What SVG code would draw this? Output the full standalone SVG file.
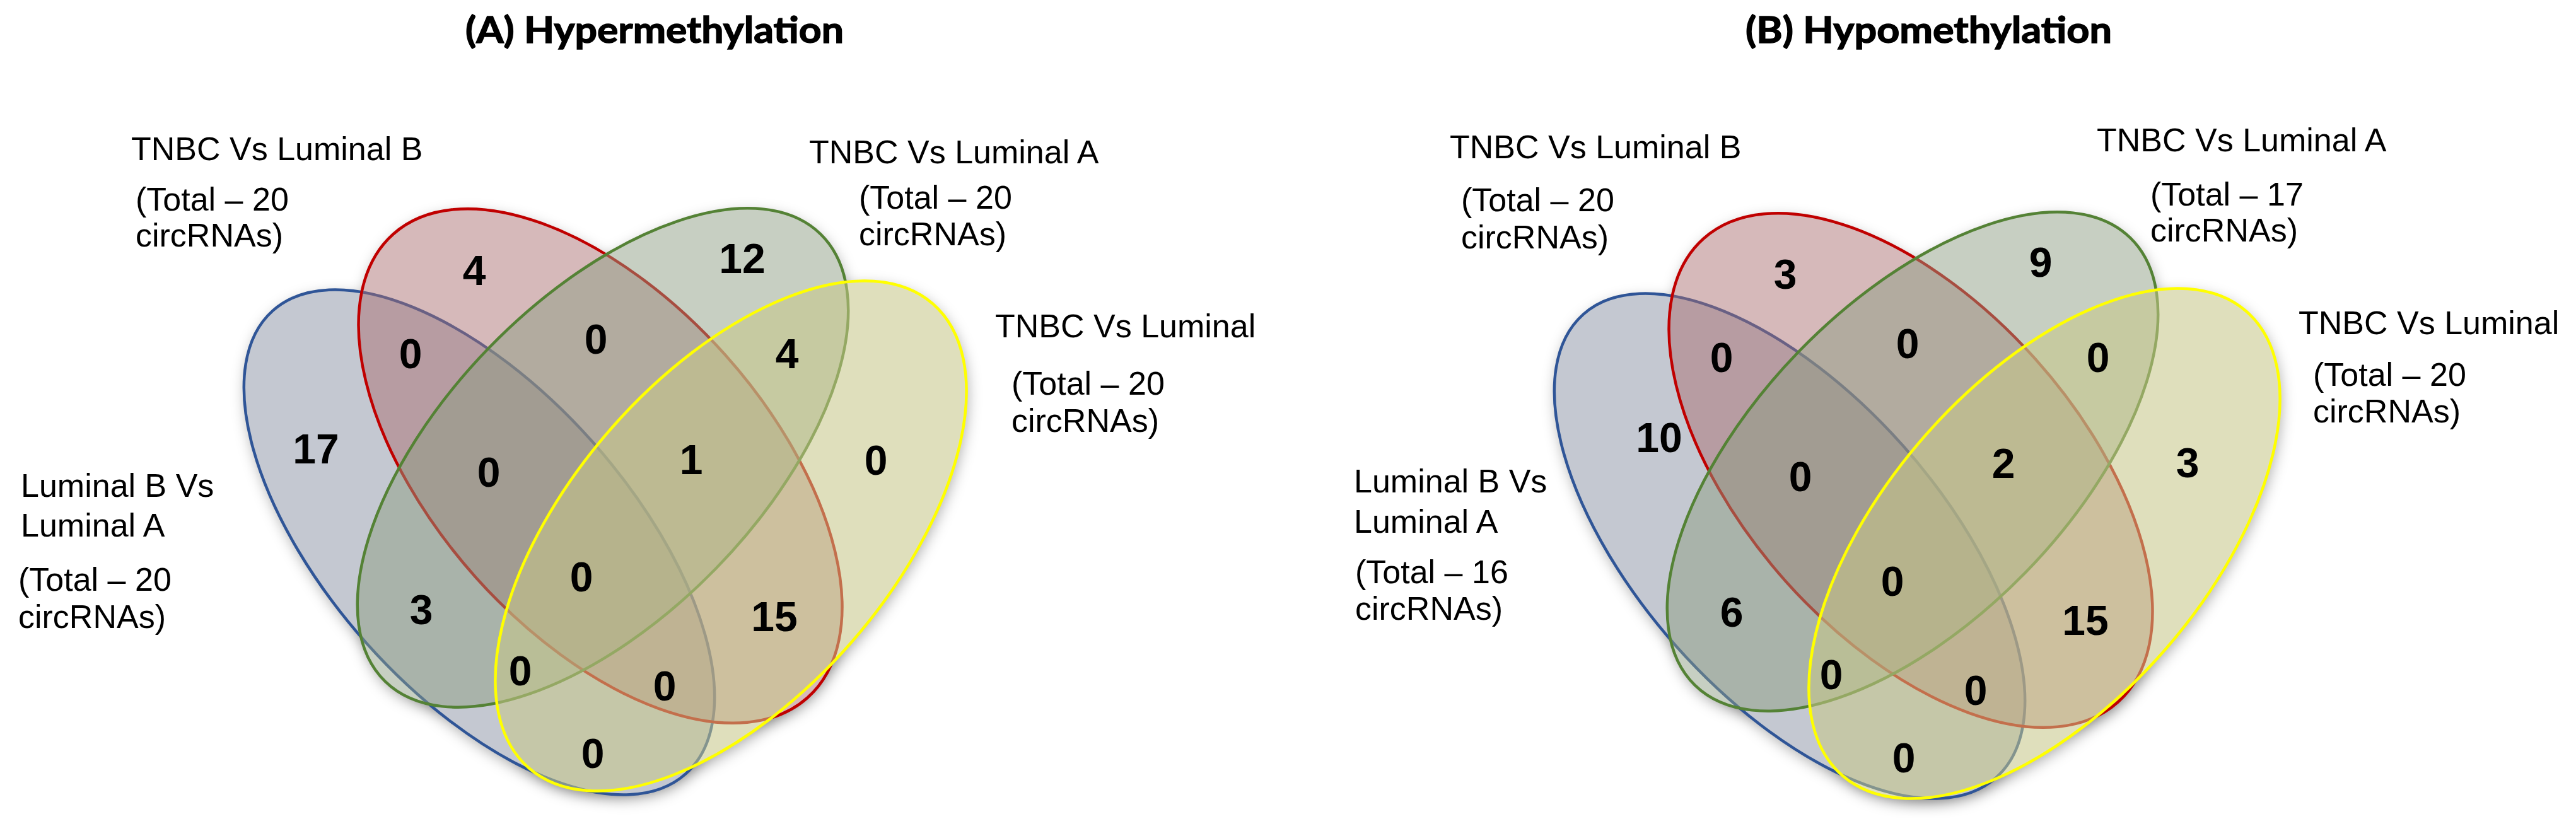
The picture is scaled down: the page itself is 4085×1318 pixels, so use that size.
<svg xmlns="http://www.w3.org/2000/svg" xmlns:xlink="http://www.w3.org/1999/xlink" width="4085" height="1318" viewBox="0 0 4085 1318">
<style>
.title{font-family:Lato,"Open Sans","Liberation Sans",sans-serif;font-weight:bold;font-size:58px;fill:#000;stroke:#000;stroke-width:1.4}
.lbl{font-family:"Liberation Sans",Arial,sans-serif;font-size:52px;fill:#000}
.num{font-family:"Liberation Sans",Arial,sans-serif;font-weight:bold;font-size:66px;fill:#000;text-anchor:middle}
.sh{fill:#000;opacity:0.32}
.wh{fill:#fff}
.blue{fill:#7c8599;fill-opacity:0.45;stroke:#2f5597;stroke-width:4.5}
.red{fill:#aa6d6f;fill-opacity:0.48;stroke:#c00000;stroke-width:4.5}
.green{fill:#8d9d83;fill-opacity:0.49;stroke:#548235;stroke-width:4.5}
.yellow{fill:#c6c687;fill-opacity:0.56;stroke:#ffff00;stroke-width:4.5}
</style>
<defs>
<filter id="blur" x="-20%" y="-20%" width="140%" height="140%"><feGaussianBlur stdDeviation="11"/></filter>
<ellipse id="eAb" cx="760" cy="860" rx="492" ry="240" transform="rotate(48.3 760 860)"/>
<ellipse id="eAr" cx="952" cy="739" rx="493" ry="265" transform="rotate(48.2 952 739)"/>
<ellipse id="eAg" cx="956" cy="726" rx="495" ry="251" transform="rotate(-45.8 956 726)"/>
<ellipse id="eAy" cx="1159" cy="850" rx="488" ry="255" transform="rotate(-49 1159 850)"/>
<ellipse id="eBb" cx="2838" cy="866" rx="492" ry="240" transform="rotate(48.3 2838 866)"/>
<ellipse id="eBr" cx="3030" cy="746" rx="493" ry="265" transform="rotate(48.2 3030 746)"/>
<ellipse id="eBg" cx="3033" cy="732" rx="495" ry="251" transform="rotate(-45.8 3033 732)"/>
<ellipse id="eBy" cx="3242" cy="862" rx="488" ry="255" transform="rotate(-49 3242 862)"/>
</defs>
<rect width="4085" height="1318" fill="#fff"/>
<text class="title" x="738" y="68" textLength="600" lengthAdjust="spacingAndGlyphs">(A) Hypermethylation</text>
<text class="title" x="2768" y="68" textLength="581" lengthAdjust="spacingAndGlyphs">(B) Hypomethylation</text>
<g id="shadows" filter="url(#blur)">
<g transform="translate(2 7)">
<use xlink:href="#eAb" class="sh"/><use xlink:href="#eAr" class="sh"/><use xlink:href="#eAg" class="sh"/><use xlink:href="#eAy" class="sh"/>
<use xlink:href="#eBb" class="sh"/><use xlink:href="#eBr" class="sh"/><use xlink:href="#eBg" class="sh"/><use xlink:href="#eBy" class="sh"/>
</g>
</g>
<g id="underlay">
<use xlink:href="#eAb" class="wh"/><use xlink:href="#eAr" class="wh"/><use xlink:href="#eAg" class="wh"/><use xlink:href="#eAy" class="wh"/>
<use xlink:href="#eBb" class="wh"/><use xlink:href="#eBr" class="wh"/><use xlink:href="#eBg" class="wh"/><use xlink:href="#eBy" class="wh"/>
</g>
<g id="A-lumB-vs-lumA">
<use xlink:href="#eAb" class="blue"/>
<text class="lbl" x="33" y="788">Luminal B Vs</text>
<text class="lbl" x="33" y="851">Luminal A</text>
<text class="lbl" x="29" y="937">(Total – 20</text>
<text class="lbl" x="29" y="996">circRNAs)</text>
</g>
<g id="A-tnbc-vs-lumB">
<use xlink:href="#eAr" class="red"/>
<text class="lbl" x="208" y="254">TNBC Vs Luminal B</text>
<text class="lbl" x="215" y="334">(Total – 20</text>
<text class="lbl" x="215" y="391">circRNAs)</text>
</g>
<g id="A-tnbc-vs-lumA">
<use xlink:href="#eAg" class="green"/>
<text class="lbl" x="1283" y="259">TNBC Vs Luminal A</text>
<text class="lbl" x="1362" y="331">(Total – 20</text>
<text class="lbl" x="1362" y="389">circRNAs)</text>
</g>
<g id="A-tnbc-vs-lum">
<use xlink:href="#eAy" class="yellow"/>
<text class="lbl" x="1578" y="535">TNBC Vs Luminal</text>
<text class="lbl" x="1604" y="626">(Total – 20</text>
<text class="lbl" x="1604" y="685">circRNAs)</text>
</g>
<g id="B-lumB-vs-lumA">
<use xlink:href="#eBb" class="blue"/>
<text class="lbl" x="2147" y="781">Luminal B Vs</text>
<text class="lbl" x="2147" y="845">Luminal A</text>
<text class="lbl" x="2149" y="925">(Total – 16</text>
<text class="lbl" x="2149" y="983">circRNAs)</text>
</g>
<g id="B-tnbc-vs-lumB">
<use xlink:href="#eBr" class="red"/>
<text class="lbl" x="2299" y="251">TNBC Vs Luminal B</text>
<text class="lbl" x="2317" y="335">(Total – 20</text>
<text class="lbl" x="2317" y="394">circRNAs)</text>
</g>
<g id="B-tnbc-vs-lumA">
<use xlink:href="#eBg" class="green"/>
<text class="lbl" x="3325" y="240">TNBC Vs Luminal A</text>
<text class="lbl" x="3410" y="326">(Total – 17</text>
<text class="lbl" x="3410" y="383">circRNAs)</text>
</g>
<g id="B-tnbc-vs-lum">
<use xlink:href="#eBy" class="yellow"/>
<text class="lbl" x="3645" y="530">TNBC Vs Luminal</text>
<text class="lbl" x="3668" y="612">(Total – 20</text>
<text class="lbl" x="3668" y="670">circRNAs)</text>
</g>
<g id="A-counts">
<text class="num" x="752" y="452">4</text>
<text class="num" x="1177" y="433">12</text>
<text class="num" x="651" y="584">0</text>
<text class="num" x="945" y="561">0</text>
<text class="num" x="1248" y="584">4</text>
<text class="num" x="501" y="735">17</text>
<text class="num" x="775" y="772">0</text>
<text class="num" x="1096" y="752">1</text>
<text class="num" x="1389" y="753">0</text>
<text class="num" x="922" y="938">0</text>
<text class="num" x="668" y="990">3</text>
<text class="num" x="1228" y="1001">15</text>
<text class="num" x="825" y="1087">0</text>
<text class="num" x="1054" y="1111">0</text>
<text class="num" x="940" y="1218">0</text>
</g>
<g id="B-counts">
<text class="num" x="2831" y="458">3</text>
<text class="num" x="3236" y="439">9</text>
<text class="num" x="2730" y="590">0</text>
<text class="num" x="3025" y="568">0</text>
<text class="num" x="3327" y="590">0</text>
<text class="num" x="2631" y="717">10</text>
<text class="num" x="2855" y="779">0</text>
<text class="num" x="3177" y="758">2</text>
<text class="num" x="3469" y="757">3</text>
<text class="num" x="3001" y="945">0</text>
<text class="num" x="2746" y="994">6</text>
<text class="num" x="3307" y="1007">15</text>
<text class="num" x="2904" y="1093">0</text>
<text class="num" x="3133" y="1118">0</text>
<text class="num" x="3019" y="1225">0</text>
</g>
</svg>
